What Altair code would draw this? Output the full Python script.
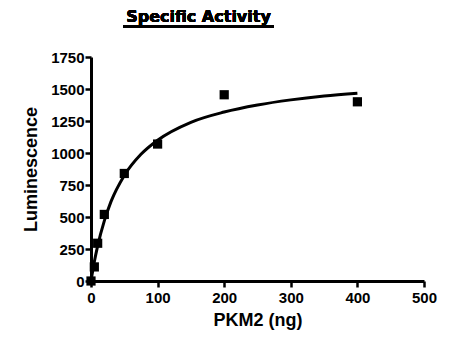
import altair as alt
import pandas as pd

# Measured luminescence for each PKM2 amount
pkm2_ng = [0, 5, 10, 20, 50, 100, 200, 400]
luminescence = [0, 110, 295, 520, 840, 1070, 1455, 1400]

# Saturation fit curve (hyperbolic), sampled along the x range
fit_ng = [0, 5, 10, 20, 30, 50, 75, 100, 150, 200, 250, 300, 350, 400]
fit_lum = [0, 150, 275, 470, 620, 825, 990, 1100, 1240, 1320, 1375, 1415, 1445, 1467]

x_ticks = [0, 100, 200, 300, 400, 500]
y_ticks = [0, 250, 500, 750, 1000, 1250, 1500, 1750]

pts = pd.DataFrame({"ng": pkm2_ng, "lum": luminescence})
fit = pd.DataFrame({"ng": fit_ng, "lum": fit_lum})

FONT = "Liberation Sans"

x_enc = alt.X(
    "ng:Q",
    scale=alt.Scale(domain=[0, 500], nice=False),
    axis=alt.Axis(values=x_ticks, format="d", title="PKM2 (ng)", grid=False),
)
y_enc = alt.Y(
    "lum:Q",
    scale=alt.Scale(domain=[0, 1750], nice=False),
    axis=alt.Axis(values=y_ticks, format="d", title="Luminescence", grid=False,
                  labelOverlap=False),
)

curve = alt.Chart(fit).mark_line(color="black", strokeWidth=3, interpolate="monotone").encode(
    x=x_enc, y=y_enc
)
points = alt.Chart(pts).mark_point(
    shape="square", filled=True, color="black", size=85, opacity=1
).encode(x=x_enc, y=y_enc)

title = alt.Chart(pts).mark_text(
    text="Specific Activity", font="DejaVu Sans", fontSize=16, fontWeight="bold",
    color="black", align="center", baseline="alphabetic",
).encode(x=alt.value(107.5), y=alt.value(-35.5))
underline = alt.Chart(pts).mark_rule(color="black", strokeWidth=3).encode(
    x=alt.value(32), x2=alt.value(183), y=alt.value(-30.5)
)

chart = (
    alt.layer(curve, points, title, underline)
    .properties(
        width=333,
        height=224,
        autosize=alt.AutoSizeParams(type="none"),
        padding={"left": 91, "top": 57, "right": 29, "bottom": 74},
        background="white",
    )
    .configure_view(stroke=None)
    .configure_axis(
        domainColor="black",
        domainWidth=3,
        tickColor="black",
        tickWidth=2.5,
        tickSize=6,
        labelFont=FONT,
        labelFontSize=15,
        labelFontWeight="bold",
        labelColor="black",
        labelPadding=1,
        labelOverlap=False,
        titleFont=FONT,
        titleFontSize=18,
        titleFontWeight="bold",
        titleColor="black",
    )
    .configure_axisY(titlePadding=10)
    .configure_axisX(titlePadding=6, labelFlush=False, labelPadding=3)
)

chart.save("out.html", embed_options={"renderer": "svg", "actions": False})
